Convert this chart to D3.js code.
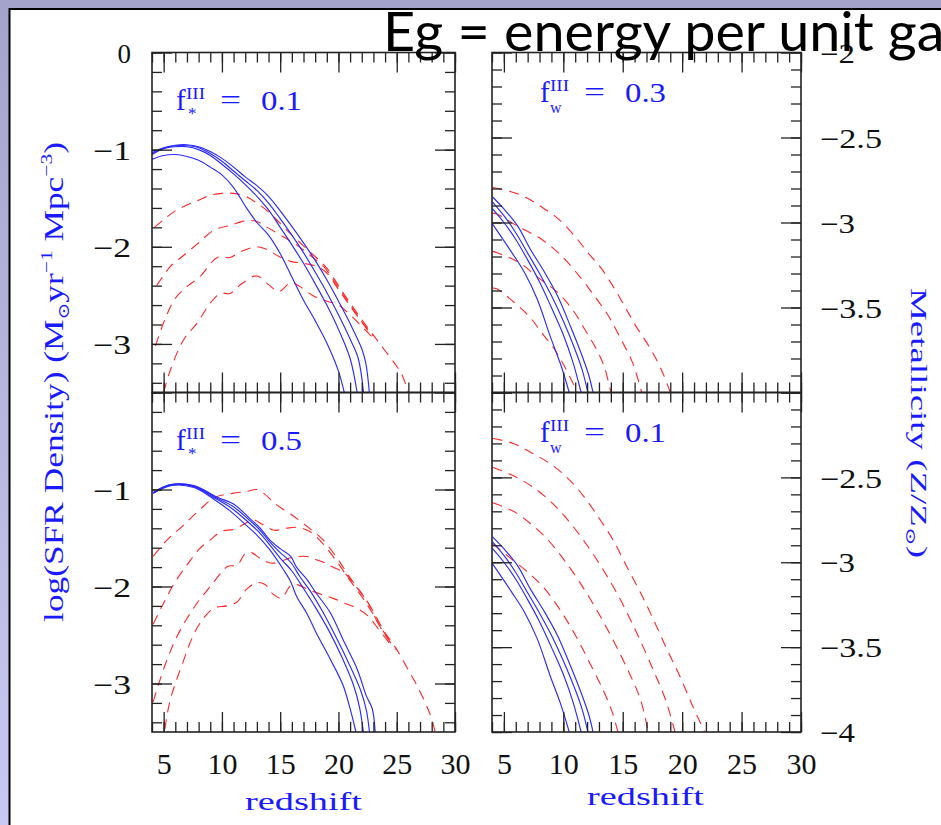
<!DOCTYPE html>
<html>
<head>
<meta charset="utf-8">
<script src="https://cdn.jsdelivr.net/npm/d3@7"></script>
<style>
html, body { margin: 0; padding: 0; background: #fff; overflow: hidden; }
svg { display: block; }
</style>
</head>
<body>
<svg id="chart" width="941" height="825"></svg>
<script>
// AXIS DOMAINS AND TICK LABELS
var zDomain = [4, 30];
var sfrDomain = [-3.5, 0];
var metalDomain = [-4, -2];
var zLabels = [5, 10, 15, 20, 25, 30];
var sfrLabelsTop = [0, -1, -2, -3];
var sfrLabelsBottom = [-1, -2, -3];
var metalLabelsTop = [-2, -2.5, -3, -3.5];
var metalLabelsBottom = [-2.5, -3, -3.5, -4];
var panelValues = ["0.1", "0.3", "0.5", "0.1"];
var panelSubs = ["*", "w", "*", "w"];

// TOP LEFT  (f*III = 0.1)  [redshift, log SFR density]
var tlBlue1 = [[4,-1.10],[5,-1.06],[6,-1.05],[7,-1.07],[8,-1.11],[9,-1.18],[10,-1.26],[11,-1.39],[12,-1.58],[13,-1.75],[14,-1.88],[15,-2.07],[16,-2.31],[17,-2.55],[18,-2.76],[19,-2.99],[20,-3.28],[20.5,-3.5]];
var tlBlue2 = [[4,-1.05],[5,-0.99],[6,-0.97],[7,-0.97],[8,-1.00],[9,-1.06],[10,-1.15],[11,-1.25],[12,-1.36],[13,-1.48],[14,-1.62],[15,-1.80],[16,-1.98],[17,-2.17],[18,-2.38],[19,-2.60],[20,-2.85],[21,-3.15],[21.6,-3.5]];
var tlBlue3 = [[4,-1.04],[5,-0.985],[6,-0.96],[7,-0.96],[8,-0.98],[9,-1.04],[10,-1.12],[11,-1.22],[12,-1.32],[13,-1.42],[14,-1.55],[15,-1.71],[16,-1.88],[17,-2.06],[18,-2.26],[19,-2.47],[20,-2.70],[21,-2.95],[21.7,-3.15],[22.15,-3.5]];
var tlBlue4 = [[4,-1.03],[5,-0.98],[6,-0.955],[7,-0.95],[8,-0.97],[9,-1.02],[10,-1.09],[11,-1.18],[12,-1.28],[13,-1.37],[14,-1.48],[15,-1.63],[16,-1.79],[17,-1.96],[18,-2.14],[19,-2.34],[20,-2.56],[21,-2.79],[22,-3.05],[22.35,-3.2],[22.65,-3.5]];
var tlRed1 = [[4.2,-1.80],[5,-1.72],[6,-1.63],[7,-1.57],[8,-1.52],[9,-1.47],[10,-1.45],[11,-1.45],[12,-1.48],[13,-1.55],[14,-1.64],[15,-1.76],[16,-1.88],[17,-1.99],[18,-2.10],[19,-2.22],[20,-2.40],[21,-2.58],[22,-2.75],[23,-2.91],[24,-3.07],[25,-3.23],[25.5,-3.33],[26,-3.5]];
var tlRed2 = [[4.4,-2.40],[5.6,-2.20],[6.7,-2.09],[7.9,-1.97],[9.3,-1.83],[10.7,-1.78],[12.1,-1.73],[13,-1.74],[13.9,-1.80],[15.3,-1.90],[16.4,-1.98],[17.6,-2.09],[18.7,-2.20],[20,-2.42],[21,-2.60],[22,-2.77],[23,-2.92]];
var tlRed3 = [[4.3,-3.02],[5.1,-2.75],[6,-2.53],[7,-2.41],[8.1,-2.31],[9.6,-2.11],[10.7,-2.11],[11.6,-2.05],[13,-2.00],[13.9,-2.03],[14.9,-2.10],[15.9,-2.15],[17,-2.17],[18.1,-2.20],[19,-2.27],[20,-2.44],[21.3,-2.66],[22.7,-2.89]];
var tlRed4 = [[5.0,-3.50],[5.6,-3.26],[6.7,-2.96],[7.9,-2.78],[9,-2.58],[9.9,-2.48],[10.7,-2.48],[11.7,-2.38],[13,-2.30],[14,-2.39],[14.9,-2.46],[15.9,-2.37],[16.7,-2.41],[17.9,-2.51],[19,-2.56],[20,-2.60],[21,-2.70],[22,-2.82],[22.9,-2.93]];

// BOTTOM LEFT  (f*III = 0.5)
var blBlue1 = [[4.1,-1.04],[5.6,-0.96],[7.6,-0.98],[9.3,-1.10],[10.7,-1.22],[12.1,-1.37],[13,-1.47],[14.1,-1.62],[15.3,-1.83],[15.9,-1.95],[16.4,-2.10],[17.3,-2.28],[18.1,-2.48],[19.3,-2.75],[20.4,-3.02],[21,-3.26],[21.5,-3.5]];
var blBlue2 = [[4.1,-1.04],[5.6,-0.955],[7.6,-0.97],[9.4,-1.09],[10.8,-1.19],[12.2,-1.33],[13.1,-1.43],[14.1,-1.57],[15.1,-1.72],[16,-1.84],[17,-2.02],[18,-2.21],[19.2,-2.46],[20.3,-2.73],[21.3,-3.02],[21.8,-3.24],[22.14,-3.5]];
var blBlue3 = [[4.1,-1.035],[5.6,-0.95],[7.6,-0.965],[9.5,-1.085],[10.9,-1.17],[12.3,-1.31],[13.2,-1.41],[14.1,-1.54],[15,-1.65],[15.9,-1.75],[16.7,-1.90],[17.6,-2.05],[18.6,-2.25],[19.7,-2.50],[20.8,-2.77],[21.9,-3.07],[22.4,-3.28],[22.66,-3.5]];
var blBlue4 = [[4.1,-1.03],[5.6,-0.95],[7.6,-0.96],[9.6,-1.08],[11,-1.15],[12.4,-1.30],[13.3,-1.40],[14.1,-1.52],[15,-1.61],[15.9,-1.69],[16.4,-1.80],[17.3,-1.93],[18.1,-2.07],[19.3,-2.27],[20.4,-2.55],[21.6,-2.85],[22.4,-3.13],[22.9,-3.26],[23.15,-3.5]];
var blRed1 = [[4.1,-1.69],[5.3,-1.52],[6.6,-1.38],[8,-1.22],[9.4,-1.08],[10.9,-1.04],[12.1,-1.02],[13,-1.00],[13.6,-1.04],[14.6,-1.15],[16.1,-1.27],[17.4,-1.39],[18.6,-1.51],[19.9,-1.71],[21,-1.91],[22.1,-2.09],[23,-2.26],[23.9,-2.46],[24.9,-2.63],[25.9,-2.84],[26.9,-3.06],[27.9,-3.33],[28.3,-3.5]];
var blRed2 = [[4.1,-2.39],[5,-2.17],[6,-1.95],[7,-1.78],[8,-1.62],[9,-1.52],[10,-1.43],[11,-1.41],[12,-1.35],[12.6,-1.31],[13.5,-1.36],[14.5,-1.42],[15.5,-1.40],[16.5,-1.39],[17.5,-1.43],[18.6,-1.55],[19.9,-1.75],[21,-1.94],[22.1,-2.12],[23,-2.29],[23.9,-2.48],[24.9,-2.65]];
var blRed3 = [[4.1,-3.19],[5,-2.85],[6,-2.55],[7,-2.33],[8,-2.15],[9,-2.00],[10,-1.85],[10.5,-1.79],[11.3,-1.78],[12,-1.66],[12.5,-1.65],[13.4,-1.72],[14.3,-1.76],[15.3,-1.73],[16,-1.70],[17.3,-1.69],[18,-1.72],[18.7,-1.75],[19.5,-1.80],[20.5,-1.86],[21.5,-2.00],[22.5,-2.16],[23.5,-2.40],[24.5,-2.57]];
var blRed4 = [[5.1,-3.47],[5.5,-3.20],[6,-3.00],[6.6,-2.80],[7.2,-2.60],[7.9,-2.42],[8.6,-2.30],[9.4,-2.22],[10.4,-2.20],[11.3,-2.16],[12.1,-2.03],[13,-1.96],[13.7,-1.98],[14.4,-2.08],[15.1,-2.12],[15.9,-1.99],[16.4,-1.98],[17.4,-2.03],[18.5,-2.08],[19.5,-2.12],[20.5,-2.17],[21.5,-2.22],[22.5,-2.30],[23.5,-2.45],[24.6,-2.62]];

// RIGHT PANELS  [redshift, log metallicity]; the solid set is the same in both
var rBlue1 = [[4.05,-3.01],[5.6,-3.17],[6.7,-3.29],[7.8,-3.45],[8.9,-3.67],[9.8,-3.84],[10.5,-4.0]];
var rBlue2 = [[4.05,-2.92],[5,-3.00],[6,-3.10],[7,-3.22],[8,-3.35],[9,-3.50],[10,-3.66],[10.8,-3.82],[11.5,-4.0]];
var rBlue3 = [[4.05,-2.88],[5,-2.96],[6,-3.06],[7,-3.18],[8,-3.30],[9,-3.43],[10,-3.58],[11,-3.75],[11.6,-3.87],[12.07,-4.0]];
var rBlue4 = [[4.05,-2.85],[5,-2.92],[6.15,-3.02],[7.25,-3.16],[8.4,-3.29],[9.5,-3.43],[10.6,-3.61],[11.45,-3.76],[12.15,-3.90],[12.5,-4.0]];

// TOP RIGHT  (fwIII = 0.3)
var trRed1 = [[4.05,-2.795],[4.5,-2.80],[6.5,-2.84],[8.2,-2.91],[9.6,-2.98],[11.2,-3.10],[12.1,-3.18],[13.2,-3.27],[14.4,-3.40],[15.3,-3.51],[16.2,-3.62],[17.4,-3.75],[18.4,-3.89],[19,-4.0]];
var trRed2 = [[4.05,-2.945],[4.4,-2.95],[6.1,-3.02],[8.2,-3.10],[9.9,-3.20],[11.4,-3.32],[12.7,-3.44],[13.8,-3.55],[14.8,-3.68],[15.8,-3.82],[16.6,-4.0]];
var trRed3 = [[4.05,-3.17],[4.5,-3.18],[6.4,-3.24],[7.8,-3.32],[9.5,-3.41],[10.85,-3.52],[11.9,-3.64],[12.9,-3.76],[13.5,-3.86],[14.0,-4.0]];
var trRed4 = [[4.05,-3.385],[4.4,-3.39],[5.7,-3.46],[7.1,-3.55],[8.2,-3.65],[9.3,-3.75],[10.2,-3.86],[11.2,-4.0]];

// BOTTOM RIGHT  (fwIII = 0.1)
var brRed1 = [[4.05,-2.27],[5.8,-2.30],[7.2,-2.35],[8.9,-2.42],[10.3,-2.50],[11.7,-2.61],[13.1,-2.75],[14.2,-2.87],[15.3,-3.02],[16.5,-3.18],[17.6,-3.34],[18.7,-3.51],[19.8,-3.67],[20.9,-3.85],[21.9,-4.0]];
var brRed2 = [[4.05,-2.44],[5.8,-2.49],[7.5,-2.56],[9.2,-2.66],[10.6,-2.77],[12,-2.90],[13.4,-3.05],[14.8,-3.22],[16.2,-3.42],[17.6,-3.64],[18.6,-3.81],[19.4,-4.0]];
var brRed3 = [[4.05,-2.65],[5.8,-2.70],[7.2,-2.77],[8.6,-2.86],[10,-2.98],[11.4,-3.12],[12.8,-3.28],[14.2,-3.46],[15.6,-3.66],[16.5,-3.81],[17.15,-4.0]];
var brRed4 = [[4.05,-2.89],[5.8,-2.99],[7.2,-3.07],[8.6,-3.17],[10,-3.31],[11.1,-3.44],[12.2,-3.59],[13.4,-3.76],[14.1,-3.88],[14.6,-4.0]];


// LAYOUT
var W = 941, H = 825;
var colX = [[152, 455], [492, 801]];
var rowY = [[52.5, 392.5], [392.5, 732]];
var blue = "#1a1aff";
var lineBlue = "#2b2bff";
var lineRed = "#ff2626";
var serif = "'Liberation Serif', 'DejaVu Serif', serif";

var svg = d3.select("#chart");

// SLIDE BACKGROUND
var grad = svg.append("defs").append("linearGradient")
  .attr("id", "lav").attr("x1", 0).attr("y1", 0).attr("x2", 0).attr("y2", 1);
grad.append("stop").attr("offset", "0%").attr("stop-color", "#a3a3cb");
grad.append("stop").attr("offset", "100%").attr("stop-color", "#c9c9f5");
svg.append("rect").attr("width", W).attr("height", H).attr("fill", "url(#lav)");
svg.append("rect").attr("x", 9.5).attr("y", 9).attr("width", W).attr("height", H)
  .attr("fill", "#fff").attr("stroke", "#000").attr("stroke-width", 2);

var panels = [
  {col: 0, row: 0, yDomain: sfrDomain, blue: [tlBlue1, tlBlue2, tlBlue3, tlBlue4], red: [tlRed1, tlRed2, tlRed3, tlRed4]},
  {col: 1, row: 0, yDomain: metalDomain, blue: [rBlue1, rBlue2, rBlue3, rBlue4], red: [trRed1, trRed2, trRed3, trRed4]},
  {col: 0, row: 1, yDomain: sfrDomain, blue: [blBlue1, blBlue2, blBlue3, blBlue4], red: [blRed1, blRed2, blRed3, blRed4]},
  {col: 1, row: 1, yDomain: metalDomain, blue: [rBlue1, rBlue2, rBlue3, rBlue4], red: [brRed1, brRed2, brRed3, brRed4]}
];

var fmt = d3.format("");

function inwardTicks(g, axisFn, scale, values, size, pos) {
  g.append("g")
    .attr("transform", pos)
    .call(axisFn(scale).tickValues(values).tickSize(-size).tickFormat(""))
    .call(a => a.select(".domain").remove())
    .selectAll("line").attr("stroke", "#222").attr("stroke-width", 1.3);
}

panels.forEach(function (p, i) {
  var x0 = colX[p.col][0], x1 = colX[p.col][1];
  var y0 = rowY[p.row][0], y1 = rowY[p.row][1];
  var x = d3.scaleLinear().domain(zDomain).range([x0, x1]);
  var y = d3.scaleLinear().domain(p.yDomain).range([y1, y0]);
  var isSfr = p.col === 0;

  var g = svg.append("g");
  g.append("clipPath").attr("id", "clip" + i)
    .append("rect").attr("x", x0).attr("y", y0).attr("width", x1 - x0).attr("height", y1 - y0);

  var line = d3.line().x(d => x(d[0])).y(d => y(d[1])).curve(d3.curveCatmullRom.alpha(0.5));
  var curves = g.append("g").attr("clip-path", "url(#clip" + i + ")");

  curves.selectAll("path.red").data(p.red).enter().append("path")
    .attr("class", "red").attr("d", line).attr("fill", "none")
    .attr("stroke", lineRed).attr("stroke-width", 1.1).attr("stroke-dasharray", "10,7");
  curves.selectAll("path.blue").data(p.blue).enter().append("path")
    .attr("class", "blue").attr("d", line).attr("fill", "none")
    .attr("stroke", lineBlue).attr("stroke-width", 1.15);

  // ticks on all four sides, pointing inwards
  var zMinor = d3.range(4, 31, 1);
  var yMinor = isSfr ? d3.range(-34, 1, 2).map(v => v / 10) : d3.range(-40, -19, 1).map(v => v / 10);
  var yMajor = isSfr ? [-3, -2, -1, 0] : d3.range(-40, -19, 5).map(v => v / 10);
  [[zMinor, 10], [zLabels, 20]].forEach(function (t) {
    inwardTicks(g, d3.axisBottom, x, t[0], t[1], "translate(0," + y1 + ")");
    inwardTicks(g, d3.axisTop, x, t[0], t[1], "translate(0," + y0 + ")");
  });
  [[yMinor, 10], [yMajor, 20]].forEach(function (t) {
    inwardTicks(g, d3.axisLeft, y, t[0], t[1], "translate(" + x0 + ",0)");
    inwardTicks(g, d3.axisRight, y, t[0], t[1], "translate(" + x1 + ",0)");
  });

  g.append("rect").attr("x", x0).attr("y", y0).attr("width", x1 - x0).attr("height", y1 - y0)
    .attr("fill", "none").attr("stroke", "#222").attr("stroke-width", 1.6);

  // tick labels
  if (isSfr) {
    var la = g.append("g").attr("transform", "translate(" + x0 + ",0)")
      .call(d3.axisLeft(y).tickValues(p.row === 0 ? sfrLabelsTop : sfrLabelsBottom).tickSize(0).tickPadding(21).tickFormat(fmt));
    la.select(".domain").remove();
    la.selectAll("text").attr("font-family", serif).attr("font-size", 27).attr("fill", "#111").attr("dy", "0.36em")
      .each(function () { if (this.textContent.length > 1) d3.select(this).attr("textLength", 38).attr("lengthAdjust", "spacingAndGlyphs"); });
  } else {
    var ra = g.append("g").attr("transform", "translate(" + x1 + ",0)")
      .call(d3.axisRight(y).tickValues(p.row === 0 ? metalLabelsTop : metalLabelsBottom).tickSize(0).tickPadding(19).tickFormat(fmt));
    ra.select(".domain").remove();
    ra.selectAll("text").attr("font-family", serif).attr("font-size", 27).attr("fill", "#111").attr("dy", "0.36em")
      .each(function () { d3.select(this).attr("textLength", this.textContent.length > 2 ? 62 : 35).attr("lengthAdjust", "spacingAndGlyphs"); });
  }
  if (p.row === 1) {
    var ba = g.append("g").attr("transform", "translate(0," + y1 + ")")
      .call(d3.axisBottom(x).tickValues(zLabels).tickSize(0).tickPadding(21).tickFormat(fmt));
    ba.select(".domain").remove();
    ba.selectAll("text").attr("font-family", serif).attr("font-size", 30).attr("fill", "#111");

    g.append("text").attr("x", (x0 + x1) / 2 + (isSfr ? 0 : -1)).attr("y", isSfr ? 810 : 805)
      .attr("text-anchor", "middle").attr("font-family", serif).attr("font-size", 25).attr("fill", blue)
      .attr("textLength", 117).attr("lengthAdjust", "spacingAndGlyphs").text("redshift");
  }

  // panel annotation f^III = value
  var lx = x0 + (isSfr ? 24 : 48);
  var ly = y0 + (isSfr ? 57.5 : 49.5);
  var lab = g.append("g").attr("fill", blue).attr("font-family", serif);
  lab.append("text").attr("x", lx).attr("y", ly).attr("font-size", 29).text("f");
  lab.append("text").attr("x", lx + 10).attr("y", ly - 11).attr("font-size", 17)
    .attr("textLength", 19).attr("lengthAdjust", "spacingAndGlyphs").text("III");
  lab.append("text").attr("x", lx + (panelSubs[i] === "*" ? 12 : 10)).attr("y", ly + (panelSubs[i] === "*" ? 9 : 11))
    .attr("font-size", panelSubs[i] === "*" ? 17 : 16).text(panelSubs[i]);
  lab.append("text").attr("x", lx + 44).attr("y", ly - 1).attr("font-size", 27)
    .attr("textLength", 21).attr("lengthAdjust", "spacingAndGlyphs").text("=");
  lab.append("text").attr("x", lx + 85).attr("y", ly).attr("font-size", 27)
    .attr("textLength", 41).attr("lengthAdjust", "spacingAndGlyphs").text(panelValues[i]);
});

// Y AXIS TITLES
var yLab = svg.append("g");
var yText = yLab.append("text").attr("text-anchor", "middle").attr("fill", blue)
  .attr("font-family", serif).attr("font-size", 28);
yText.append("tspan").text("log(SFR Density) (M");
yText.append("tspan").attr("font-size", 16).attr("dy", 6).text("\u2299");
yText.append("tspan").attr("dy", -6).text("yr");
yText.append("tspan").attr("font-size", 17).attr("dy", -11).text("\u22121");
yText.append("tspan").attr("dy", 11).text(" Mpc");
yText.append("tspan").attr("font-size", 17).attr("dy", -11).text("\u22123");
yText.append("tspan").attr("dy", 11).text(")");
var ys = 480 / yText.node().getBBox().width;
yLab.attr("transform", "translate(63,382) rotate(-90) scale(" + ys + ",1)");

var zLab = svg.append("g");
var zText = zLab.append("text").attr("text-anchor", "middle").attr("fill", blue)
  .attr("font-family", serif).attr("font-size", 23);
zText.append("tspan").text("Metallicity (Z/Z");
zText.append("tspan").attr("font-size", 14).attr("dy", 5).text("\u2299");
zText.append("tspan").attr("dy", -5).text(")");
var zs = 270 / zText.node().getBBox().width;
zLab.attr("transform", "translate(911,423) rotate(90) scale(" + zs + ",1)");

// SLIDE TITLE (drawn over the plot)
var title = svg.append("text").attr("font-family", "Lato, 'DejaVu Sans', sans-serif")
  .attr("font-size", 54).attr("fill", "#000").text("Eg = energy per unit ga");
var prefixW;
try { prefixW = title.node().getSubStringLength(0, 21); }
catch (e) { prefixW = title.node().getComputedTextLength() * 21 / 23; }
title.attr("transform", "translate(383,51) scale(" + (505 / prefixW) + ",1)");
</script>
</body>
</html>
